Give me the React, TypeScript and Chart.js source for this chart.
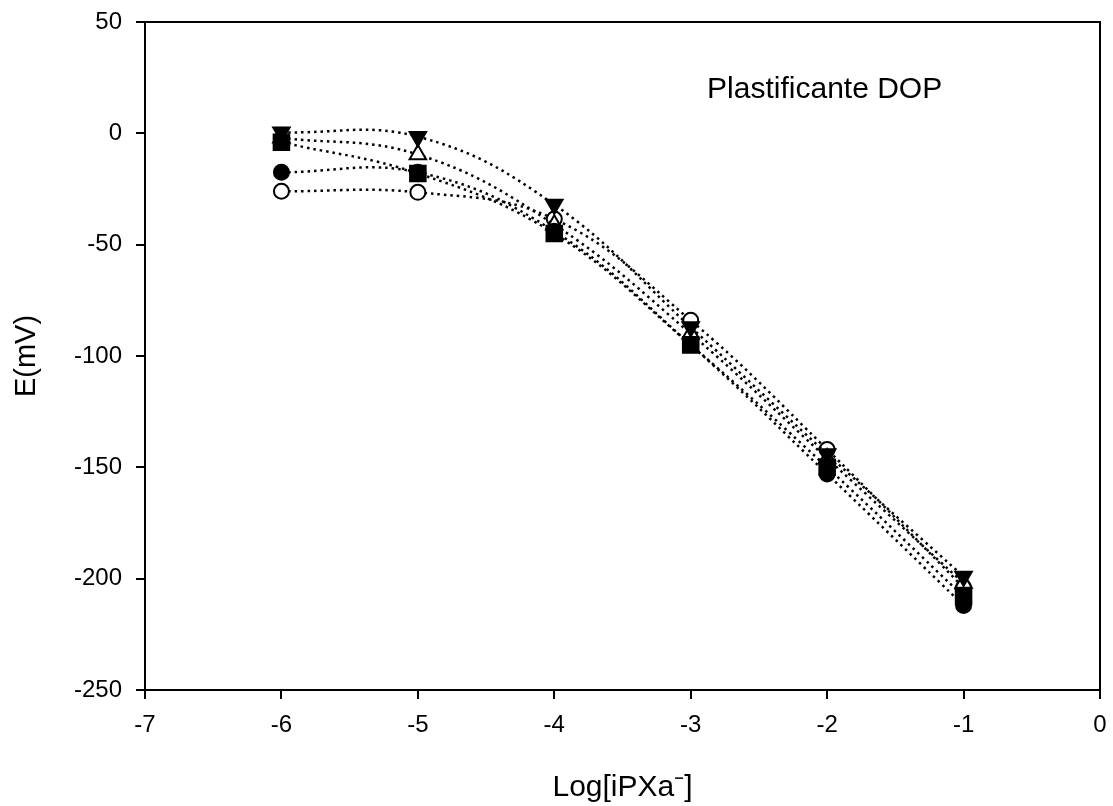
import React, { useEffect, useRef } from "react";
import { Chart, registerables } from "chart.js";

Chart.register(...registerables);

const xValues = [-6, -5, -4, -3, -2, -1];
const filledTriDown = [0.5, -1.5, -32, -87, -144, -199];
const filledSquare = [-4, -18, -45, -95, -150, -208];
const filledCircle = [-17.5, -17.5, -44, -95, -153, -212];
const openTriUp = [-2, -9.5, -41, -90, -146, -202];
const openCircle = [-26, -26.5, -38.5, -84, -142, -204];

const xTitle = "Log[iPXa\u207B]";
const yTitle = "E(mV)";
const annotation = "Plastificante DOP";

const FONT = "'Liberation Sans', Arial, sans-serif";

function makeSeries(values: number[], style: string, fill: string, radius: number, rotation = 0) {
  return {
    data: xValues.map((x, i) => ({ x, y: values[i] })),
    borderColor: "#000",
    borderWidth: 2.5,
    borderDash: [2.5, 4],
    tension: 0.4,
    pointStyle: style,
    pointRadius: radius,
    pointRotation: rotation,
    pointBackgroundColor: fill,
    pointBorderColor: "#000",
    pointBorderWidth: 2,
    fill: false,
  };
}

const framePlugin = {
  id: "frame",
  afterDraw(chart: any) {
    const { ctx, chartArea, scales } = chart;
    ctx.save();
    ctx.strokeStyle = "#000";
    ctx.lineWidth = 2;
    ctx.beginPath();
    ctx.moveTo(chartArea.left, chartArea.top);
    ctx.lineTo(chartArea.right, chartArea.top);
    ctx.lineTo(chartArea.right, chartArea.bottom);
    ctx.stroke();
    ctx.fillStyle = "#000";
    ctx.font = `30px ${FONT}`;
    ctx.textBaseline = "alphabetic";
    ctx.textAlign = "left";
    ctx.fillText(annotation, scales.x.getPixelForValue(-2.88), scales.y.getPixelForValue(16));
    ctx.restore();
  },
};

export default function App() {
  const ref = useRef<HTMLCanvasElement | null>(null);
  useEffect(() => {
    document.body.style.margin = "0";
    const canvas = ref.current!;
    const chart = new Chart(canvas, {
      type: "line",
      data: {
        datasets: [
          makeSeries(filledTriDown, "triangle", "#000", 9.5, 180),
          makeSeries(filledSquare, "rect", "#000", 11),
          makeSeries(filledCircle, "circle", "#000", 7.5),
          makeSeries(openTriUp, "triangle", "#fff", 9.5),
          makeSeries(openCircle, "circle", "#fff", 7.5),
        ] as any,
      },
      options: {
        animation: false,
        responsive: false,
        maintainAspectRatio: false,
        layout: { padding: { top: 22, right: 13, left: 0, bottom: 0 } },
        plugins: { legend: { display: false }, tooltip: { enabled: false } },
        scales: {
          x: {
            type: "linear",
            min: -7,
            max: 0,
            ticks: { stepSize: 1, color: "#000", font: { family: FONT, size: 24 }, padding: 12 },
            grid: { drawOnChartArea: false, tickLength: 9, color: "#000", lineWidth: 2 },
            border: { color: "#000", width: 2 },
            title: { display: true, text: xTitle, color: "#000", font: { family: FONT, size: 30 }, padding: { top: 0, bottom: 0 } },
            afterFit: (s: any) => {
              s.height = 116;
              s.paddingLeft = 0;
              s.paddingRight = 0;
            },
          },
          y: {
            type: "linear",
            min: -250,
            max: 50,
            ticks: { stepSize: 50, color: "#000", font: { family: FONT, size: 24 }, padding: 14 },
            grid: { drawOnChartArea: false, tickLength: 9, color: "#000", lineWidth: 2 },
            border: { color: "#000", width: 2 },
            title: { display: true, text: yTitle, color: "#000", font: { family: FONT, size: 29 }, padding: { top: 10, bottom: 0 } },
            afterFit: (s: any) => {
              s.width = 145;
              s.paddingTop = 0;
              s.paddingBottom = 0;
            },
          },
        },
      },
      plugins: [framePlugin],
    } as any);
    return () => chart.destroy();
  }, []);
  return (
    <div style={{ position: "absolute", left: 0, top: 0, width: 1113, height: 806, background: "#fff" }}>
      <canvas ref={ref} width={1113} height={806} style={{ width: 1113, height: 806 }} />
    </div>
  );
}
